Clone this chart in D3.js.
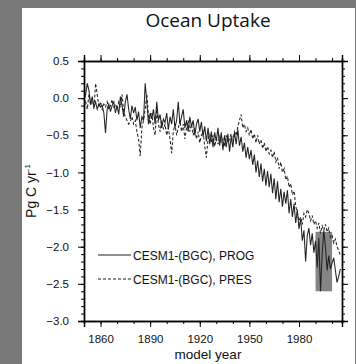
<!DOCTYPE html>
<html>
<head>
<meta charset="utf-8">
<script src="https://cdn.jsdelivr.net/npm/d3@7"></script>
<style>
  html, body { margin: 0; padding: 0; background: #787878; }
  svg { display: block; }
</style>
</head>
<body>
<script>
// Annual global ocean carbon uptake, 1850-2005 (Pg C / yr)
const years = d3.range(1850, 2006);

const prog = [
  -0.03, 0.05, 0.20, 0.10, -0.08, 0.02, -0.12, -0.05, -0.15, -0.08,
  -0.12, -0.10, -0.20, -0.47, -0.15, -0.08, -0.18, -0.10, -0.05, -0.20,
  -0.10, -0.22, 0.02, -0.10, -0.25, -0.05, 0.05, -0.15, -0.28, -0.10,
  -0.20, -0.12, -0.30, -0.18, -0.40, -0.25, -0.30, 0.20, -0.05, -0.35,
  -0.20, -0.28, -0.15, -0.35, -0.05, -0.30, -0.22, -0.40, -0.28, -0.33,
  -0.20, -0.42, -0.25, -0.35, -0.15, -0.40, -0.30, -0.05, -0.35, -0.25,
  -0.15, -0.40, -0.30, -0.45, -0.25, -0.38, -0.30, -0.50, -0.35, -0.28,
  -0.45, -0.32, -0.52, -0.38, -0.58, -0.40, -0.62, -0.45, -0.66, -0.46,
  -0.58, -0.40, -0.64, -0.46, -0.70, -0.50, -0.66, -0.48, -0.72, -0.52,
  -0.66, -0.46, -0.62, -0.42, -0.64, -0.52, -0.72, -0.60, -0.80, -0.66,
  -0.82, -0.70, -0.90, -0.76, -1.00, -0.84, -1.06, -0.88, -1.12, -0.95,
  -1.18, -0.98, -1.20, -1.02, -1.28, -1.08, -1.36, -1.12, -1.40, -1.22,
  -1.46, -1.26, -1.42, -1.24, -1.55, -1.36, -1.60, -1.42, -1.68, -1.50,
  -1.76, -1.62, -1.92, -1.78, -2.20, -1.85, -1.75, -1.98, -1.82, -2.08,
  -1.92, -2.28, -1.88, -2.60, -2.10, -1.78, -2.00, -2.32, -2.12, -2.30,
  -2.22, -2.15, -2.32, -2.48, -2.40, -2.30
];

const pres = [
  -0.12, -0.05, -0.15, 0.05, -0.10, 0.00, -0.15, 0.20, 0.05, -0.12,
  -0.05, -0.15, -0.08, -0.12, -0.05, -0.15, -0.10, -0.02, -0.12, -0.08,
  -0.15, -0.05, -0.12, 0.05, -0.18, -0.25, -0.30, -0.35, -0.32, -0.25,
  -0.35, -0.30, -0.45, -0.55, -0.78, -0.40, -0.30, -0.15, 0.05, -0.25,
  -0.35, -0.20, -0.40, -0.50, -0.15, -0.35, -0.45, -0.30, -0.42, -0.35,
  -0.50, -0.40, -0.55, -0.74, -0.45, -0.35, -0.50, -0.40, -0.30, -0.45,
  -0.35, -0.55, -0.40, -0.30, -0.45, -0.35, -0.50, -0.40, -0.55, -0.45,
  -0.60, -0.50, -0.45, -0.65, -0.80, -0.55, -0.48, -0.60, -0.50, -0.65,
  -0.55, -0.62, -0.50, -0.60, -0.55, -0.65, -0.50, -0.60, -0.55, -0.48,
  -0.58, -0.45, -0.50, -0.38, -0.30, -0.22, -0.40, -0.35, -0.45, -0.40,
  -0.50, -0.42, -0.55, -0.48, -0.60, -0.50, -0.62, -0.56, -0.68, -0.60,
  -0.72, -0.65, -0.75, -0.70, -0.80, -0.72, -0.86, -0.80, -0.95, -0.86,
  -1.00, -0.95, -1.10, -1.05, -1.20, -1.15, -1.30, -1.25, -1.45, -1.55,
  -1.65, -1.60, -1.70, -1.55, -1.60, -1.50, -1.55, -1.65, -1.58, -1.70,
  -1.65, -1.75, -1.68, -1.82, -1.72, -1.78, -1.70, -1.80, -1.75, -1.88,
  -1.85, -1.95, -1.90, -2.00, -2.05, -2.12
];

// Observed 1990s uptake range
const obsYears = [1990, 2000];
const obsRange = [-2.6, -1.8];

const seriesNames = ["CESM1-(BGC), PROG", "CESM1-(BGC), PRES"];
const majorYears = [1860, 1890, 1920, 1950, 1980];
const minorYears = d3.range(1850, 2010, 10);
const yMajor = [0.5, 0.0, -0.5, -1.0, -1.5, -2.0, -2.5, -3.0];
const yMinor = d3.range(-30, 6, 1).map(v => v / 10);

const W = 356, H = 364;
const m = { left: 84, right: 342, top: 61, bottom: 321 };

const svg = d3.select("body").append("svg").attr("width", W).attr("height", H);

// white panel over the grey backdrop
svg.append("rect").attr("x", 22).attr("y", 8).attr("width", 333).attr("height", H - 8)
  .attr("fill", "#fff");

svg.append("text").attr("x", 208).attr("y", 27).attr("text-anchor", "middle")
  .attr("font-family", "Open Sans, sans-serif").attr("font-size", 19).attr("fill", "#111")
  .text("Ocean Uptake");

const x = d3.scaleLinear().domain([1850, 2006]).range([m.left, m.right]);
const y = d3.scaleLinear().domain([-3.0, 0.5]).range([m.bottom, m.top]);

const font = "Liberation Sans, Arial, Helvetica, sans-serif";

// observation box
svg.append("rect")
  .attr("x", x(obsYears[0])).attr("width", x(obsYears[1]) - x(obsYears[0]))
  .attr("y", y(obsRange[1])).attr("height", y(obsRange[0]) - y(obsRange[1]))
  .attr("fill", "#858585");

const line = d3.line().x((d, i) => x(years[i])).y(d => y(d));

svg.append("path").datum(pres).attr("d", line).attr("fill", "none")
  .attr("stroke", "#222").attr("stroke-width", 1.05).attr("stroke-dasharray", "3,2");
svg.append("path").datum(prog).attr("d", line).attr("fill", "none")
  .attr("stroke", "#222").attr("stroke-width", 1.05);

// axes: all ticks point outward
function styleAxis(g) {
  g.selectAll("path.domain").attr("stroke", "#000").attr("stroke-width", 1.4);
  g.selectAll(".tick line").attr("stroke", "#000").attr("stroke-width", 1);
  g.selectAll("text").attr("font-family", font).attr("font-size", 11.5).attr("fill", "#111");
}

const fmtY = d3.format(".1f");
const fmtYear = d3.format("d");

svg.append("g").attr("transform", `translate(0,${m.bottom})`)
  .call(d3.axisBottom(x).tickValues(minorYears.filter(v => v <= 2006)).tickSize(3).tickFormat(""))
  .call(styleAxis);
svg.append("g").attr("transform", `translate(0,${m.bottom})`)
  .call(d3.axisBottom(x).tickValues(majorYears).tickSize(6).tickPadding(8).tickFormat(fmtYear))
  .call(styleAxis);
svg.append("g").attr("transform", `translate(0,${m.top})`)
  .call(d3.axisTop(x).tickValues(minorYears.filter(v => v <= 2006)).tickSize(3).tickFormat(""))
  .call(styleAxis);
svg.append("g").attr("transform", `translate(0,${m.top})`)
  .call(d3.axisTop(x).tickValues(majorYears).tickSize(6).tickFormat(""))
  .call(styleAxis);

svg.append("g").attr("transform", `translate(${m.left},0)`)
  .call(d3.axisLeft(y).tickValues(yMinor).tickSize(3).tickFormat(""))
  .call(styleAxis);
svg.append("g").attr("transform", `translate(${m.left},0)`)
  .call(d3.axisLeft(y).tickValues(yMajor).tickSize(6).tickPadding(9).tickFormat(fmtY))
  .call(styleAxis);
svg.append("g").attr("transform", `translate(${m.right},0)`)
  .call(d3.axisRight(y).tickValues(yMinor).tickSize(3).tickFormat(""))
  .call(styleAxis);
svg.append("g").attr("transform", `translate(${m.right},0)`)
  .call(d3.axisRight(y).tickValues(yMajor).tickSize(6).tickFormat(""))
  .call(styleAxis);

// axis titles
svg.append("text").attr("x", 208).attr("y", 359).attr("text-anchor", "middle")
  .attr("font-family", font).attr("font-size", 13.5).attr("fill", "#111")
  .text("model year");

const yl = svg.append("text")
  .attr("transform", `translate(36,${(m.top + m.bottom) / 2}) rotate(-90)`)
  .attr("text-anchor", "middle")
  .attr("font-family", font).attr("font-size", 14).attr("fill", "#111");
yl.append("tspan").text("Pg C yr");
yl.append("tspan").attr("dy", -6).attr("font-size", 8).text("-1");

// legend
const legend = svg.append("g");
seriesNames.forEach((name, i) => {
  const ly = 255 + i * 24;
  legend.append("line").attr("x1", 98).attr("x2", 131).attr("y1", ly).attr("y2", ly)
    .attr("stroke", "#222").attr("stroke-width", 1)
    .attr("stroke-dasharray", i === 1 ? "3,2" : null);
  legend.append("text").attr("x", 133).attr("y", ly + 4.5)
    .attr("font-family", font).attr("font-size", 12).attr("fill", "#111")
    .text(name);
});
</script>
</body>
</html>
